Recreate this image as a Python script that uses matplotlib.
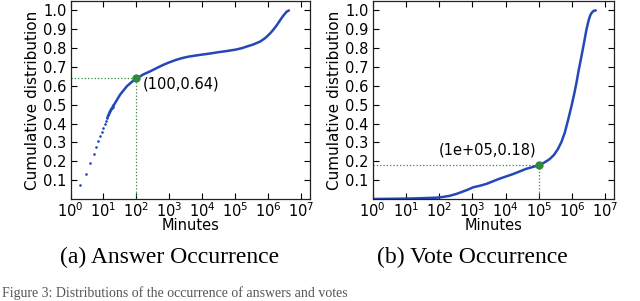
import matplotlib
matplotlib.use("Agg")
import matplotlib.pyplot as plt
import numpy as np

# ---- data ----
# (a) Answer occurrence: discrete minutes at the low end (drawn as dots)
ans_dot_x = [2, 3, 4, 5, 6, 7, 8, 9, 10, 11, 12, 13, 14, 15, 16, 17, 18, 19, 20]
ans_dot_y = [0.075, 0.135, 0.19, 0.236, 0.276, 0.306, 0.332, 0.355, 0.378, 0.398, 0.415, 0.43,
             0.443, 0.455, 0.466, 0.475, 0.483, 0.49, 0.497]
# continuous part (log10 minutes, cdf)
ans_logx = [1.114, 1.2, 1.355, 1.506, 1.709, 1.85, 2.0, 2.2, 2.415, 2.62, 2.82, 3.0, 3.22, 3.4,
            3.58, 3.8, 4.0, 4.25, 4.5, 4.75, 5.0, 5.2, 5.35, 5.55, 5.75, 5.9, 6.05, 6.15,
            6.25, 6.35, 6.45, 6.55, 6.62]
ans_y = [0.43, 0.466, 0.51, 0.554, 0.598, 0.62, 0.638, 0.66, 0.677, 0.695, 0.712, 0.725, 0.739,
         0.748, 0.755, 0.761, 0.766, 0.772, 0.779, 0.785, 0.792, 0.8, 0.809, 0.82, 0.835, 0.853,
         0.878, 0.898, 0.921, 0.947, 0.972, 0.993, 1.0]

# (b) Vote occurrence (log10 minutes, cdf)
vote_logx = [0.0, 0.5, 1.0, 1.42, 1.92, 2.12, 2.32, 2.52, 2.72, 2.87, 3.02, 3.22, 3.42, 3.62,
             3.82, 4.02, 4.22, 4.42, 4.62, 4.82, 5.0, 5.15, 5.32, 5.45, 5.57, 5.68, 5.78, 5.88,
             5.98, 6.06, 6.13, 6.2, 6.28, 6.36, 6.43, 6.5, 6.55, 6.6, 6.65, 6.71]
vote_y = [0.0, 0.001, 0.002, 0.004, 0.007, 0.011, 0.017, 0.027, 0.04, 0.05, 0.062, 0.07, 0.08,
          0.094, 0.108, 0.12, 0.132, 0.146, 0.16, 0.17, 0.18, 0.192, 0.211, 0.233, 0.264, 0.303,
          0.352, 0.42, 0.492, 0.555, 0.616, 0.685, 0.756, 0.83, 0.897, 0.95, 0.976, 0.99, 0.998,
          1.0]

ans_mark = (100, 0.64)
vote_mark = (1e5, 0.18)

xticks = [1, 10, 100, 1e3, 1e4, 1e5, 1e6, 1e7]
xticklabels = [r"$10^{%d}$" % i for i in range(8)]
yticks = [0.1, 0.2, 0.3, 0.4, 0.5, 0.6, 0.7, 0.8, 0.9, 1.0]
ylabel = "Cumulative distribution"
xlabel = "Minutes"
captions = ["(a) Answer Occurrence", "(b) Vote Occurrence"]
fig_caption = "Figure 3: Distributions of the occurrence of answers and votes"

blue = "#2448b8"
green = "#2e8b3a"

plt.rcParams["font.family"] = "DejaVu Sans"
plt.rcParams["mathtext.fontset"] = "dejavusans"

fig = plt.figure(figsize=(6.4, 3.01), dpi=100)
W, H = 640, 301

def add_axes(l, r, t, b):
    return fig.add_axes([l / W, 1 - b / H, (r - l) / W, (b - t) / H])

ax1 = add_axes(70.5, 310, 1, 199)
ax2 = add_axes(372.7, 614, 1, 199)

for ax in (ax1, ax2):
    ax.set_xscale("log")
    ax.set_xlim(1, 10 ** 7.26)
    ax.set_ylim(0, 1.05)
    ax.set_xticks(xticks)
    ax.set_xticklabels(xticklabels)
    ax.set_yticks(yticks)
    ax.set_yticklabels(["%.1f" % v for v in yticks])
    ax.minorticks_off()
    ax.tick_params(direction="in", top=True, right=True, length=4, width=0.8,
                   labelsize=10.5, pad=3)
    ax.tick_params(axis="x", pad=1.5)
    ax.set_ylabel(ylabel, fontsize=11, labelpad=2)
    ax.set_xlabel(xlabel, fontsize=10.5, labelpad=-1)
    for s in ax.spines.values():
        s.set_linewidth(0.9)
        s.set_color("#222222")

# (a)
ax1.plot([1, ans_mark[0]], [ans_mark[1]] * 2, ls=":", color=green, lw=0.9)
ax1.plot([ans_mark[0]] * 2, [0, ans_mark[1]], ls=":", color=green, lw=0.9)
ax1.plot(ans_dot_x, ans_dot_y, ls="none", marker="o", ms=1.9, mew=0, color=blue)
ax1.plot(10 ** np.array(ans_logx), ans_y, color=blue, lw=1.8, solid_capstyle="round")
ax1.plot([ans_mark[0]], [ans_mark[1]], marker="o", ms=5, color=green, mec=green)
ax1.annotate("(100,0.64)", xy=ans_mark, xytext=(4.5, -4), textcoords="offset points",
             ha="left", va="center", fontsize=10.5)

# (b)
ax2.plot([1, vote_mark[0]], [vote_mark[1]] * 2, ls=":", color=green, lw=0.9)
ax2.plot([vote_mark[0]] * 2, [0, vote_mark[1]], ls=":", color=green, lw=0.9)
ax2.plot(10 ** np.array(vote_logx), vote_y, color=blue, lw=1.8, solid_capstyle="round")
ax2.plot([vote_mark[0]], [vote_mark[1]], marker="o", ms=5, color=green, mec=green)
ax2.annotate("(1e+05,0.18)", xy=vote_mark, xytext=(-2, 10.5), textcoords="offset points",
             ha="right", va="center", fontsize=10.5)

# sub-captions
fig.text(170 / W, 1 - 257 / H, captions[0], family="Liberation Serif", fontsize=17,
         ha="center", va="center")
fig.text(472 / W, 1 - 257 / H, captions[1], family="Liberation Serif", fontsize=17,
         ha="center", va="center")
fig.text(2 / W, 1.5 / H, fig_caption, family="Liberation Serif", fontsize=10,
         ha="left", va="bottom", color="#555555")

fig.savefig("out.png", dpi=100)
